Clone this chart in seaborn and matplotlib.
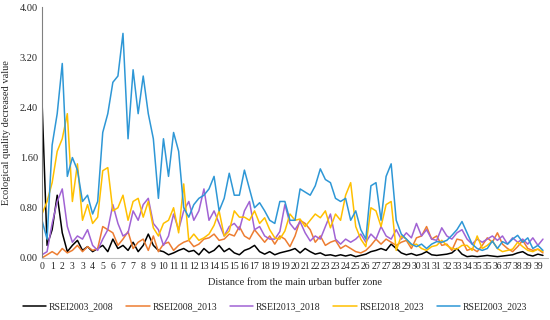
# Ecological quality decrease along distance from the main urban buffer zone
import numpy as np
import pandas as pd
import seaborn as sns
import matplotlib.pyplot as plt

# distance grid (km), one sample every 0.4 km
distance = np.round(np.arange(100) * 0.4, 1)

rsei_2003_2008 = [2.5, 0.2, 0.45, 1.0, 0.4, 0.1, 0.2, 0.28, 0.12, 0.18,
                  0.1, 0.15, 0.2, 0.1, 0.3, 0.15, 0.2, 0.12, 0.25, 0.1,
                  0.2, 0.38, 0.2, 0.12, 0.1, 0.05, 0.08, 0.12, 0.15, 0.1,
                  0.12, 0.05, 0.15, 0.08, 0.12, 0.2, 0.1, 0.15, 0.08, 0.05,
                  0.12, 0.15, 0.2, 0.1, 0.06, 0.1, 0.05, 0.08, 0.1, 0.12,
                  0.15, 0.08, 0.15, 0.1, 0.06, 0.08, 0.04, 0.05, 0.03, 0.05,
                  0.03, 0.05, 0.02, 0.04, 0.06, 0.1, 0.12, 0.15, 0.12, 0.22,
                  0.15, 0.08, 0.05, 0.07, 0.04, 0.06, 0.1, 0.05, 0.04, 0.05,
                  0.06, 0.08, 0.15, 0.06, 0.02, 0.03, 0.02, 0.03, 0.04, 0.03,
                  0.02, 0.03, 0.04, 0.05, 0.08, 0.1, 0.05, 0.03, 0.06, 0.04]

rsei_2008_2013 = [0.0, 0.05, 0.1, 0.05, 0.15, 0.08, 0.12, 0.2, 0.1, 0.18,
                  0.12, 0.15, 0.5, 0.45, 0.4, 0.2, 0.3, 0.42, 0.15, 0.25,
                  0.3, 0.12, 0.35, 0.1, 0.22, 0.25, 0.12, 0.2, 0.25, 0.28,
                  0.18, 0.22, 0.3, 0.32, 0.38, 0.28, 0.3, 0.38, 0.35, 0.5,
                  0.35, 0.3, 0.45, 0.35, 0.25, 0.35, 0.22, 0.35, 0.3, 0.18,
                  0.35, 0.6, 0.55, 0.45, 0.25, 0.35, 0.2, 0.25, 0.28, 0.15,
                  0.2, 0.15, 0.1, 0.08, 0.12, 0.2, 0.3, 0.22, 0.3, 0.25,
                  0.2, 0.25, 0.28, 0.15, 0.32, 0.35, 0.5, 0.3, 0.35, 0.2,
                  0.22, 0.12, 0.3, 0.28, 0.12, 0.15, 0.1, 0.2, 0.32, 0.25,
                  0.4, 0.22, 0.15, 0.1, 0.18, 0.28, 0.15, 0.12, 0.14, 0.08]

rsei_2013_2018 = [0.05, 0.1, 0.55, 0.9, 1.1, 0.5, 0.25, 0.35, 0.3, 0.45,
                  0.2, 0.12, 0.3, 0.45, 0.85, 0.55, 0.35, 0.4, 0.75, 0.6,
                  0.85, 0.95, 0.55, 0.45, 0.2, 0.35, 0.7, 0.45, 0.75, 0.9,
                  0.6, 0.75, 1.1, 0.6, 0.75, 0.55, 0.35, 0.5, 0.55, 0.45,
                  0.75, 0.9, 0.45, 0.5, 0.35, 0.3, 0.3, 0.42, 0.85, 0.55,
                  0.45, 0.58, 0.4, 0.27, 0.35, 0.3, 0.5, 0.7, 0.3, 0.22,
                  0.3, 0.25, 0.3, 0.38, 0.25, 0.38, 0.3, 0.5, 0.35, 0.3,
                  0.45, 0.3, 0.4, 0.32, 0.55, 0.35, 0.45, 0.3, 0.28, 0.48,
                  0.35, 0.3, 0.4, 0.45, 0.3, 0.22, 0.3, 0.25, 0.3, 0.35,
                  0.28, 0.35, 0.22, 0.32, 0.25, 0.3, 0.22, 0.32, 0.2, 0.3]

rsei_2018_2023 = [0.7, 0.9, 1.2, 1.7, 1.9, 2.3, 0.9, 1.5, 0.6, 0.85,
                  0.55, 0.65, 1.39, 1.44, 0.75, 0.8, 1.0, 0.6, 0.9, 0.95,
                  0.65, 0.9, 0.48, 0.35, 0.55, 0.6, 0.8, 0.4, 1.18, 0.28,
                  0.38, 0.28, 0.32, 0.38, 0.52, 0.75, 0.35, 0.43, 0.75, 0.65,
                  0.65, 0.6, 0.75, 0.55, 0.64, 0.45, 0.32, 0.3, 0.43, 0.7,
                  0.6, 0.62, 0.5, 0.6, 0.7, 0.64, 0.75, 0.48, 0.7, 0.6,
                  1.0, 1.2, 0.5, 0.3, 0.18, 0.8, 0.75, 0.5, 0.85, 0.9,
                  0.12, 0.35, 0.3, 0.2, 0.22, 0.15, 0.12, 0.18, 0.2, 0.28,
                  0.2, 0.15, 0.14, 0.2, 0.2, 0.12, 0.35, 0.15, 0.2, 0.27,
                  0.15, 0.1, 0.12, 0.14, 0.25, 0.18, 0.12, 0.1, 0.14, 0.1]

rsei_2003_2023 = [0.6, 0.3, 1.8, 2.3, 3.1, 1.3, 1.6, 1.4, 0.9, 1.0,
                  0.7, 0.9, 2.0, 2.3, 2.8, 2.9, 3.58, 1.9, 3.0, 2.3,
                  2.9, 2.3, 1.9, 0.95, 1.9, 1.3, 2.0, 1.7, 0.8, 0.65,
                  0.85, 0.95, 1.0, 1.1, 1.3, 0.75, 0.95, 1.35, 1.0, 1.0,
                  1.4, 1.1, 0.8, 0.88, 0.75, 0.6, 0.55, 0.9, 0.9, 0.6,
                  0.6, 1.1, 1.05, 1.0, 1.15, 1.42, 1.25, 1.2, 0.95, 0.9,
                  0.95, 0.6, 0.75, 0.45, 0.3, 1.15, 1.2, 0.6, 1.3, 1.5,
                  0.6, 0.38, 0.3, 0.22, 0.18, 0.22, 0.15, 0.22, 0.26, 0.25,
                  0.28, 0.36, 0.45, 0.58, 0.4, 0.22, 0.15, 0.12, 0.15, 0.27,
                  0.15, 0.26, 0.22, 0.3, 0.36, 0.25, 0.32, 0.15, 0.2, 0.12]

series_names = ['RSEI2003_2008', 'RSEI2008_2013', 'RSEI2013_2018',
                'RSEI2018_2023', 'RSEI2003_2023']
series_colors = ['#000000', '#ED7D31', '#A163D4', '#FFC000', '#2E97D6']

tick_labels = ['0', '1', '2', '3', '3', '4', '5', '6', '7', '7',
               '8', '9', '10', '11', '11', '12', '13', '14', '15', '15',
               '16', '17', '18', '19', '19', '20', '21', '22', '23', '23',
               '24', '25', '26', '27', '27', '28', '29', '30', '31', '31',
               '32', '33', '34', '35', '35', '36', '37', '38', '39', '39']
y_ticks = [0.0, 0.8, 1.6, 2.4, 3.2, 4.0]

# long form table for seaborn
frames = []
for name, vals in zip(series_names, [rsei_2003_2008, rsei_2008_2013, rsei_2013_2018,
                                     rsei_2018_2023, rsei_2003_2023]):
    frames.append(pd.DataFrame({'Distance': distance, 'Value': vals, 'Series': name}))
df = pd.concat(frames, ignore_index=True)

sns.set_style('white')
plt.rcParams['font.family'] = ['Liberation Serif', 'DejaVu Serif']

fig = plt.figure(figsize=(5.5, 3.2), dpi=100)
ax = fig.add_axes([0.0764, 0.194, 0.92, 0.784])

sns.lineplot(data=df, x='Distance', y='Value', hue='Series', hue_order=series_names,
             palette=series_colors, linewidth=1.1, ax=ax, legend=False)

ax.set_xlim(0, 40)
ax.set_ylim(0, 4.0)
ax.set_yticks(y_ticks)
ax.set_yticklabels(['%.2f' % v for v in y_ticks], fontsize=7.5)
ax.set_xticks([0.8 * k for k in range(len(tick_labels))])
ax.set_xticklabels(tick_labels, fontsize=7)
ax.tick_params(axis='both', length=0, pad=3)

for side in ['top', 'right']:
    ax.spines[side].set_visible(False)
ax.spines['left'].set_color('#808080')
ax.spines['left'].set_linewidth(0.8)
ax.spines['bottom'].set_color('#BFBFBF')
ax.spines['bottom'].set_linewidth(0.8)

ax.set_xlabel('Distance from the main urban buffer zone', fontsize=7.5, labelpad=5)
ax.set_ylabel('Ecological quality decreased value', fontsize=7.5, labelpad=6)

handles = [plt.Line2D([], [], color=c, linewidth=1.1) for c in series_colors]
fig.legend(handles, series_names, loc='center', bbox_to_anchor=(0.5, 0.04), ncol=5,
           frameon=False, fontsize=7, handlelength=2.4, handletextpad=0.3,
           columnspacing=1.3)

fig.savefig('out.png', dpi=100)
